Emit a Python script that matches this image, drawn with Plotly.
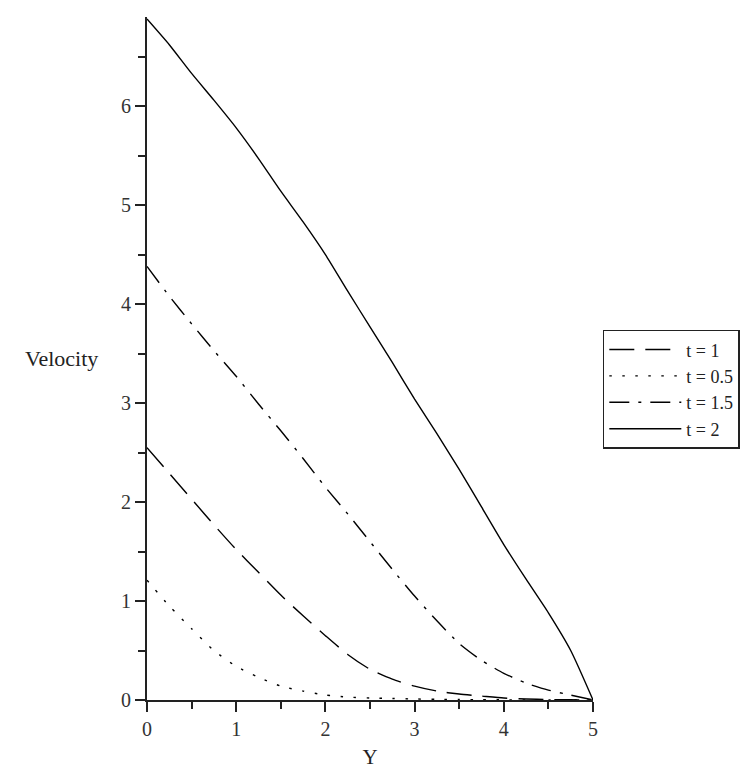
import plotly.graph_objects as go

# Velocity profiles across Y for several times t
y_pos = [0, 0.25, 0.5, 0.75, 1, 1.25, 1.5, 1.75, 2, 2.25, 2.5, 2.75, 3, 3.25, 3.5, 3.75, 4, 4.25, 4.5, 4.75, 5]

vel_t1 = [2.55, 2.29, 2.03, 1.77, 1.52, 1.29, 1.06, 0.85, 0.65, 0.46, 0.31, 0.21, 0.14, 0.09, 0.06, 0.04, 0.02, 0.01, 0.005, 0.002, 0.0]
vel_t05 = [1.21, 0.95, 0.72, 0.5, 0.34, 0.23, 0.14, 0.09, 0.05, 0.03, 0.02, 0.015, 0.01, 0.007, 0.005, 0.003, 0.002, 0.001, 0.0, 0.0, 0.0]
vel_t15 = [4.38, 4.08, 3.8, 3.53, 3.27, 2.99, 2.72, 2.44, 2.15, 1.88, 1.6, 1.32, 1.05, 0.8, 0.57, 0.4, 0.27, 0.17, 0.1, 0.05, 0.0]
vel_t2 = [6.88, 6.62, 6.33, 6.06, 5.78, 5.47, 5.14, 4.83, 4.5, 4.13, 3.77, 3.41, 3.04, 2.69, 2.33, 1.95, 1.57, 1.22, 0.88, 0.5, 0.0]

series = [
    ("t = 1", vel_t1, "25px,11px"),
    ("t = 0.5", vel_t05, "2.5px,10.5px"),
    ("t = 1.5", vel_t15, "20px,9px,3px,9px"),
    ("t = 2", vel_t2, "solid"),
]

x_ticks = [0, 1, 2, 3, 4, 5]
y_ticks = [0, 1, 2, 3, 4, 5, 6]

fig = go.Figure()
for name, vals, dash in series:
    fig.add_trace(go.Scatter(
        x=y_pos, y=vals, mode="lines", name=name,
        line=dict(color="black", width=1.4, dash=dash, shape="spline", smoothing=0.6),
    ))

serif = "Liberation Serif, Times New Roman, serif"
axis_common = dict(
    showgrid=False, zeroline=False, showline=True, linecolor="#222", linewidth=2,
    ticks="outside", ticklen=10, tickwidth=1.5, tickcolor="#222",
    tickfont=dict(family=serif, size=20, color="#333"),
    minor=dict(ticks="outside", ticklen=7, tickwidth=1.5, tickcolor="#222", dtick=0.5, showgrid=False),
    automargin=False,
)

fig.update_layout(
    width=753, height=769,
    margin=dict(l=147, r=160, t=17, b=69),
    paper_bgcolor="white", plot_bgcolor="white",
    font=dict(family=serif, color="#222"),
    showlegend=True,
    legend=dict(
        x=1.022, y=0.542, xanchor="left", yanchor="top",
        bordercolor="#222", borderwidth=1.5, bgcolor="white",
        font=dict(family=serif, size=18, color="#222"),
        itemwidth=72, tracegroupgap=0,
    ),
    xaxis=dict(range=[0, 5], tickvals=x_ticks,
               title=dict(text="Y", font=dict(family=serif, size=21, color="#222"), standoff=16),
               **axis_common),
    yaxis=dict(range=[0, 6.9], tickvals=y_ticks, **axis_common),
    annotations=[dict(
        text="Velocity", xref="paper", yref="paper", x=0, y=0.5,
        xanchor="right", yanchor="middle", xshift=-47, showarrow=False,
        font=dict(family=serif, size=22, color="#222"),
    )],
)

fig.write_html("out.html")
